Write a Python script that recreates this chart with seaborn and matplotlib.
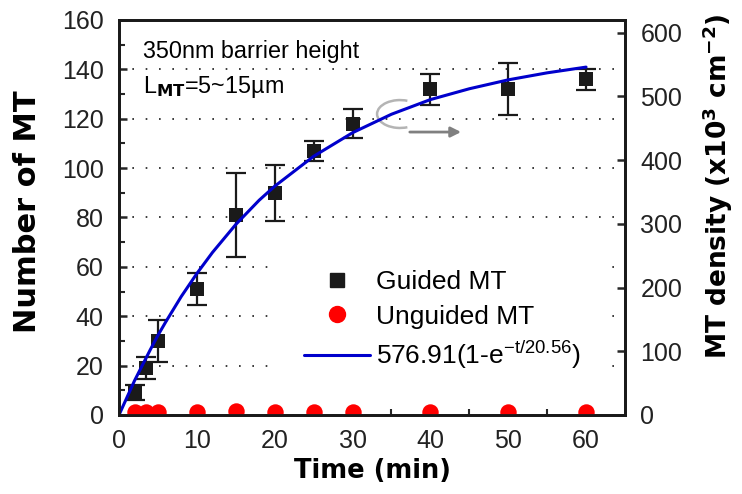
import numpy as np
import pandas as pd
import seaborn as sns
import matplotlib.pyplot as plt
from matplotlib.lines import Line2D
from matplotlib.patches import Arc

sns.set_theme(style="ticks")
plt.rcParams['font.family'] = ['Liberation Sans', 'DejaVu Sans']
plt.rcParams['text.color'] = 'black'
plt.rcParams['axes.labelcolor'] = 'black'
plt.rcParams['mathtext.fontset'] = 'custom'
plt.rcParams['mathtext.rm'] = 'Liberation Sans'
plt.rcParams['mathtext.it'] = 'Liberation Sans:italic'
plt.rcParams['mathtext.bf'] = 'DejaVu Sans:bold'
plt.rcParams['mathtext.default'] = 'regular'

# guided MT counts with error bars (left axis)
time_guided = [2, 3.5, 5, 10, 15, 20, 25, 30, 40, 50, 60]
count_guided = [9, 19, 30, 51, 81, 90, 107, 118, 132, 132, 136]
err_guided = [3, 4.5, 8.5, 6.5, 17, 11.3, 4, 6, 6.3, 10.5, 4.3]

# unguided MT counts (left axis)
time_unguided = [2, 3.5, 5, 10, 15, 20, 25, 30, 40, 50, 60]
count_unguided = [1, 1, 1, 1, 1.5, 1, 1, 1, 1, 1.3, 1]

# fitted density (right axis)
time_fit = [0, 1, 2, 3, 4, 5, 6, 8, 10, 12, 15, 18, 20, 25, 30, 35, 40, 45, 50, 55, 60]
density_fit = [0, 27, 54, 78, 102, 125, 146, 186, 222, 255, 299, 337, 359,
               406, 443, 472, 495, 512, 526, 537, 546]

legend_labels = ['Guided MT', 'Unguided MT', r'576.91(1-e$^{-t/20.56}$)']

blue = '#0000cc'
tick_col = '#222222'

fig = plt.figure(figsize=(7.42, 4.94), dpi=100)
ax = fig.add_axes([0.1604, 0.16, 0.6819, 0.7996])
ax2 = ax.twinx()

# dotted horizontal grid
ax.yaxis.grid(True, linestyle=(0, (1, 7)), linewidth=1.2, color='k')
ax.set_axisbelow(True)

ax.errorbar(time_guided, count_guided, yerr=err_guided, fmt='none', ecolor='k',
            elinewidth=1.6, capsize=7, capthick=1.6, zorder=2)
sns.scatterplot(x=time_guided, y=count_guided, marker='s', color='k', s=90,
                linewidth=0, ax=ax, zorder=3)
sns.scatterplot(x=time_unguided, y=count_unguided, marker='o', color='red', s=140,
                linewidth=0, ax=ax, zorder=3)

sns.lineplot(x=time_fit, y=density_fit, ax=ax2, color=blue, linewidth=2.2, legend=False)

ax.set_xlim(0, 65)
ax.set_ylim(0, 160)
ax2.set_ylim(0, 620)

ax.set_xticks(range(0, 61, 10))
ax.set_xticks(range(5, 56, 10), minor=True)
ax.set_yticks(range(0, 161, 20))
ax.set_yticks(range(10, 151, 20), minor=True)
ax2.set_yticks(range(0, 601, 100))

ax.tick_params(axis='both', which='major', direction='in', length=6, width=1.8,
               labelsize=18, labelcolor=tick_col, top=False, right=False)
ax.tick_params(axis='y', which='major', pad=11)
ax.tick_params(axis='x', which='major', pad=10)
ax.tick_params(axis='both', which='minor', direction='in', length=4, width=1.5,
               top=False, right=False)
ax2.tick_params(axis='y', which='major', direction='in', length=6, width=1.8,
                labelsize=18, labelcolor=tick_col, pad=11)
ax2.tick_params(axis='y', which='minor', right=False)

for a in (ax, ax2):
    for s in a.spines.values():
        s.set_linewidth(2)
        s.set_color('k')

ax.set_xlabel('Time (min)', fontsize=18.5, fontweight='bold', family='DejaVu Sans')
ax.set_ylabel('Number of MT', fontsize=22, fontweight='bold', family='DejaVu Sans')
ax2.set_ylabel(r'MT density (x10$^{\mathbf{3}}$ cm$^{\mathbf{-2}}$)', fontsize=19,
               fontweight='bold', family='DejaVu Sans')
ax.xaxis.set_label_coords(0.5, -0.11)
ax.yaxis.set_label_coords(-0.152, 0.514)
ax2.yaxis.set_label_coords(1.150, 0.58)

ax.text(3.1, 144.6, '350nm barrier height', fontsize=16.8, va='baseline')
ax.text(3.1, 130.4, r'L$_{\mathbf{MT}}$=5~15µm', fontsize=16.8, va='baseline')

# grey marker telling the curve belongs to the right axis
ax.add_patch(Arc((36.1, 121.9), width=5.9, height=11.3, theta1=80, theta2=280,
                 color='#b4b4b4', linewidth=1.8))
ax.annotate('', xy=(44.3, 114.6), xytext=(37, 114.6),
            arrowprops=dict(arrowstyle='-|>', color='#808080', lw=2, mutation_scale=15))

handles = [Line2D([], [], marker='s', color='k', ls='none', ms=9.5),
           Line2D([], [], marker='o', color='red', ls='none', ms=11.5),
           Line2D([], [], color=blue, lw=2.2)]
leg = ax2.legend(handles, legend_labels, loc='upper left', bbox_to_anchor=(0.304, 0.447),
                 frameon=True, fontsize=19, handlelength=2.5, handletextpad=0.2,
                 labelspacing=0.4, borderpad=1.2, fancybox=False, borderaxespad=0,
                 framealpha=1)
leg.get_frame().set_edgecolor('none')
leg.get_frame().set_facecolor('white')

fig.savefig('out.png', dpi=100)
